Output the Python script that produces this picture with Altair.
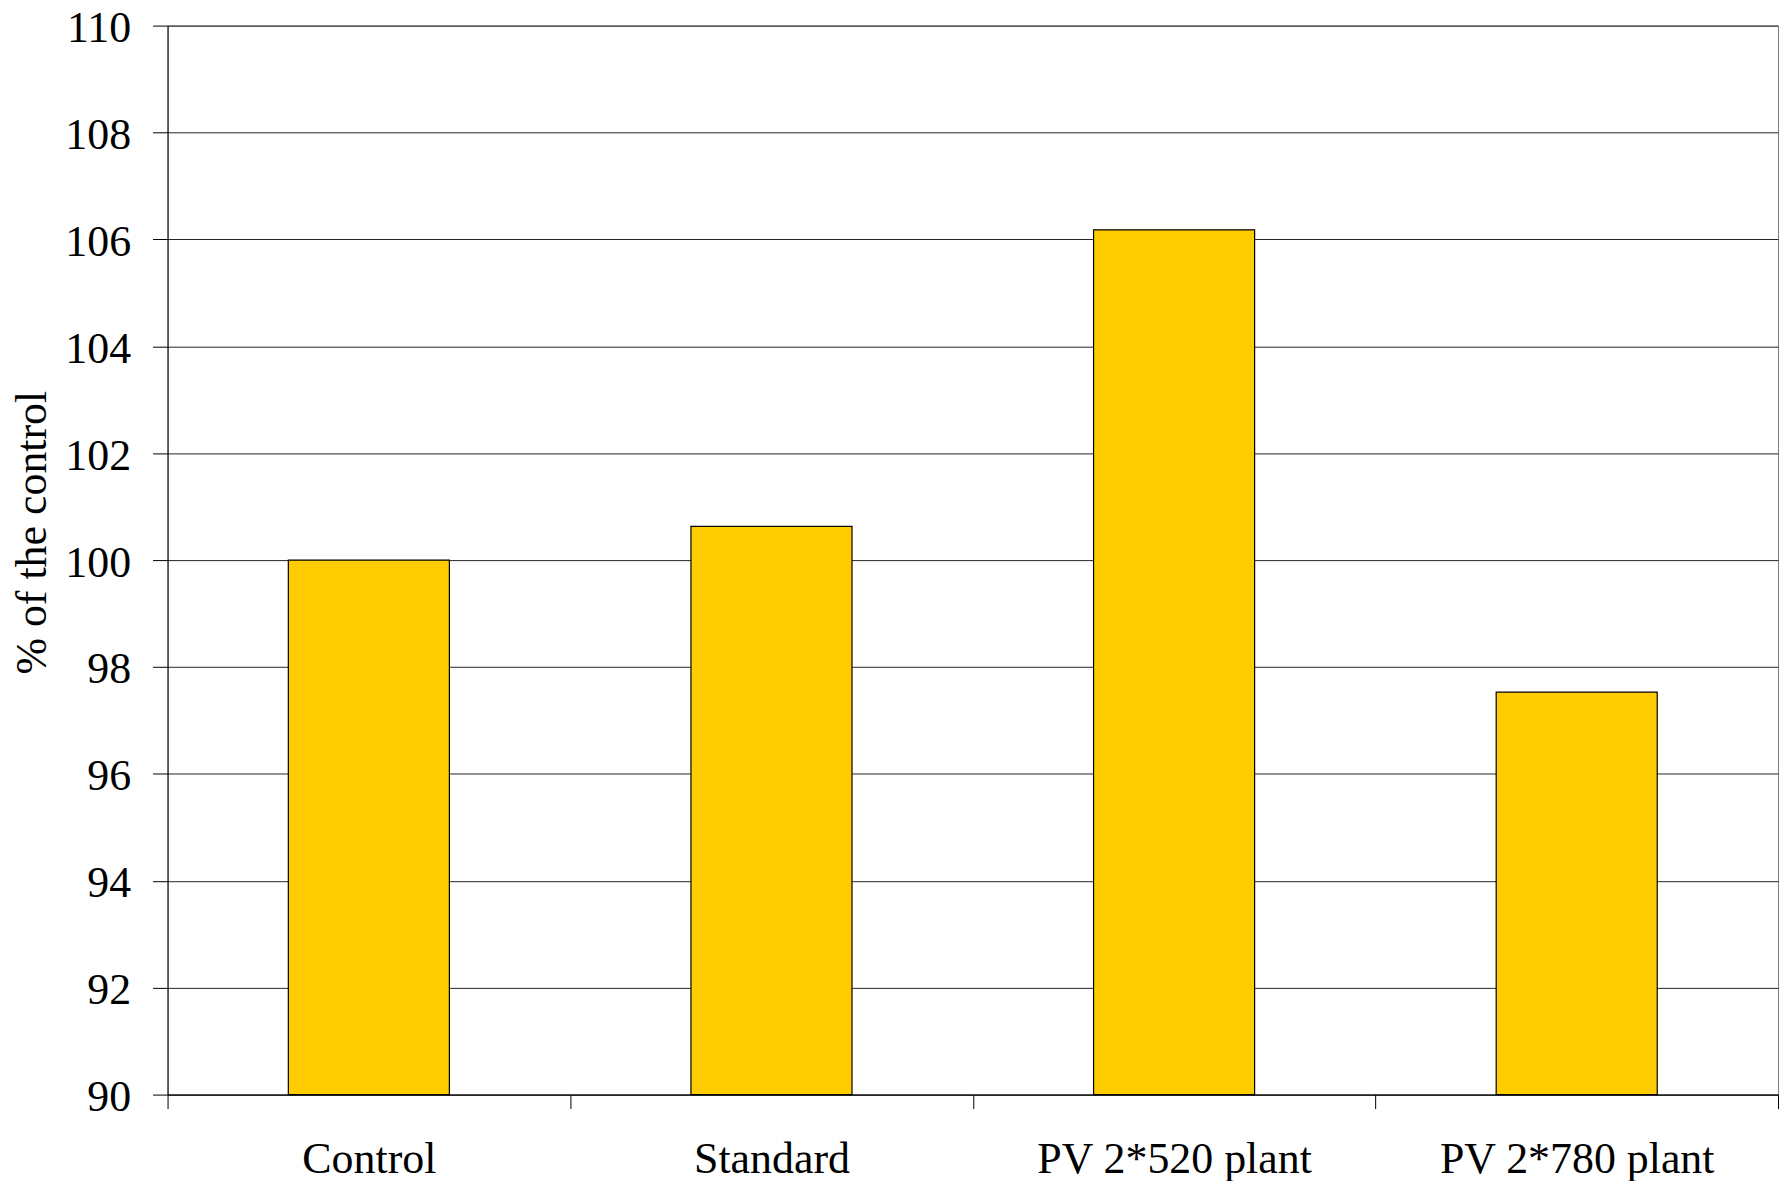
import altair as alt
import pandas as pd

categories = ["Control", "Standard", "PV 2*520 plant", "PV 2*780 plant"]
values = [100.0, 100.63, 106.18, 97.53]
y_ticks = [90, 92, 94, 96, 98, 100, 102, 104, 106, 108, 110]
baseline = 90

df = pd.DataFrame({"category": categories, "value": values})

FONT = "Liberation Serif"

chart = alt.Chart(df).mark_bar(
    color="#FFCC00", stroke="#000000", strokeWidth=1.2,
    width=alt.RelativeBandSize(0.40)
).encode(
    x=alt.X("category:N", sort=categories,
            scale=alt.Scale(paddingInner=0, paddingOuter=0),
            axis=alt.Axis(title=None, labelAngle=0, labelFont=FONT, labelFontSize=44,
                          labelColor="#000000", tickBand="extent", tickSize=14,
                          tickColor="#000000", domainColor="#000000", labelPadding=29,
                          labelLimit=600, grid=False)),
    y=alt.Y("value:Q",
            scale=alt.Scale(domain=[90, 110], nice=False, zero=False),
            axis=alt.Axis(title="% of the control", values=y_ticks, labelFont=FONT,
                          labelFontSize=44, labelColor="#000000", tickSize=15,
                          tickColor="#000000", domainColor="#000000", labelPadding=22,
                          labelOffset=3,
                          grid=True, gridColor="#000000", gridOpacity=0.85,
                          titleFont=FONT, titleFontSize=44, titleFontWeight="normal",
                          titleColor="#000000", titlePadding=10, titleY=508)),
    y2=alt.datum(baseline),
).properties(
    width=1615, height=1072,
    autosize=alt.AutoSizeParams(type="none"),
    padding={"left": 160, "top": 16, "right": 5, "bottom": 85},
).configure_view(
    stroke="#808080", strokeWidth=1
)

chart.save("out.html", embed_options={"renderer": "svg", "actions": False})
